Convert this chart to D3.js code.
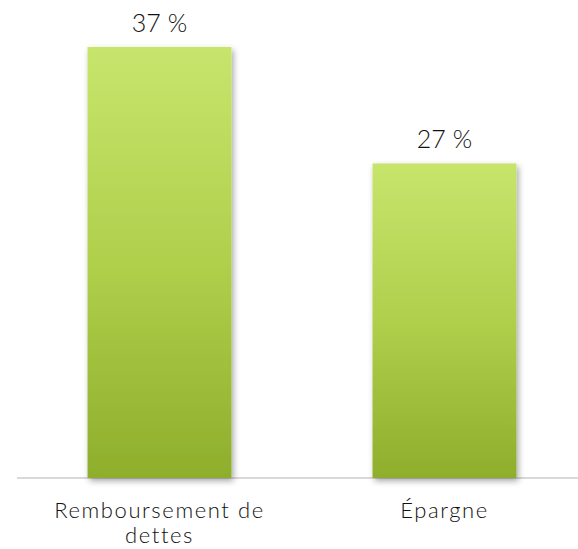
<!DOCTYPE html>
<html><head><meta charset="utf-8">
<script src="https://cdn.jsdelivr.net/npm/d3@7"></script>
<style>html,body{margin:0;padding:0;background:#fff;}</style>
</head><body>
<svg id="chart" width="578" height="549"></svg>
<script>
const categories = ["Remboursement de dettes", "Épargne"];
const categoryLines = [["Remboursement de", "dettes"], ["Épargne"]];
const values = [37, 27];
const valueLabels = ["37 %", "27 %"];

const W = 578, H = 549;
const svg = d3.select("#chart");
const font = "Lato, 'Open Sans', sans-serif";

const x = d3.scaleBand().domain(categories).range([17, 587]).paddingInner(0.495).paddingOuter(0.2475);
const y = d3.scaleLinear().domain([0, 40]).range([478, 12]);

const defs = svg.append("defs");
const grad = defs.append("linearGradient").attr("id", "g").attr("x1", 0).attr("y1", 0).attr("x2", 0).attr("y2", 1);
grad.append("stop").attr("offset", "0%").attr("stop-color", "#c7e56c");
grad.append("stop").attr("offset", "50%").attr("stop-color", "#b0cf4c");
grad.append("stop").attr("offset", "100%").attr("stop-color", "#8eae2c");
const f = defs.append("filter").attr("id", "sh").attr("x", "-20%").attr("y", "-10%").attr("width", "140%").attr("height", "120%");
f.append("feDropShadow").attr("dx", 2).attr("dy", 3).attr("stdDeviation", 3).attr("flood-color", "#000").attr("flood-opacity", 0.35);

// axis baseline
svg.append("line").attr("x1", 17).attr("x2", W).attr("y1", y(0)).attr("y2", y(0))
  .attr("stroke", "#d9d9d9").attr("stroke-width", 2);

svg.selectAll("rect.bar").data(values).join("rect").attr("class", "bar")
  .attr("x", (d, i) => x(categories[i]))
  .attr("width", x.bandwidth())
  .attr("y", d => y(d))
  .attr("height", d => y(0) - y(d))
  .attr("fill", "url(#g)")
  .attr("filter", "url(#sh)");

svg.selectAll("text.val").data(values).join("text").attr("class", "val")
  .attr("x", (d, i) => x(categories[i]) + x.bandwidth() / 2)
  .attr("y", d => y(d) - 15)
  .attr("text-anchor", "middle")
  .attr("font-family", font).attr("font-size", 25).attr("font-weight", 300).attr("fill", "#111")
  .text((d, i) => valueLabels[i]);

categories.forEach((c, i) => {
  const cx = x(c) + x.bandwidth() / 2;
  categoryLines[i].forEach((ln, j) => {
    svg.append("text")
      .attr("x", cx)
      .attr("y", 518 + j * 25)
      .attr("text-anchor", "middle")
      .attr("font-family", font).attr("font-size", 22).attr("font-weight", 300)
      .attr("letter-spacing", 1.6).attr("fill", "#111")
      .text(ln);
  });
});
</script>
</body></html>
